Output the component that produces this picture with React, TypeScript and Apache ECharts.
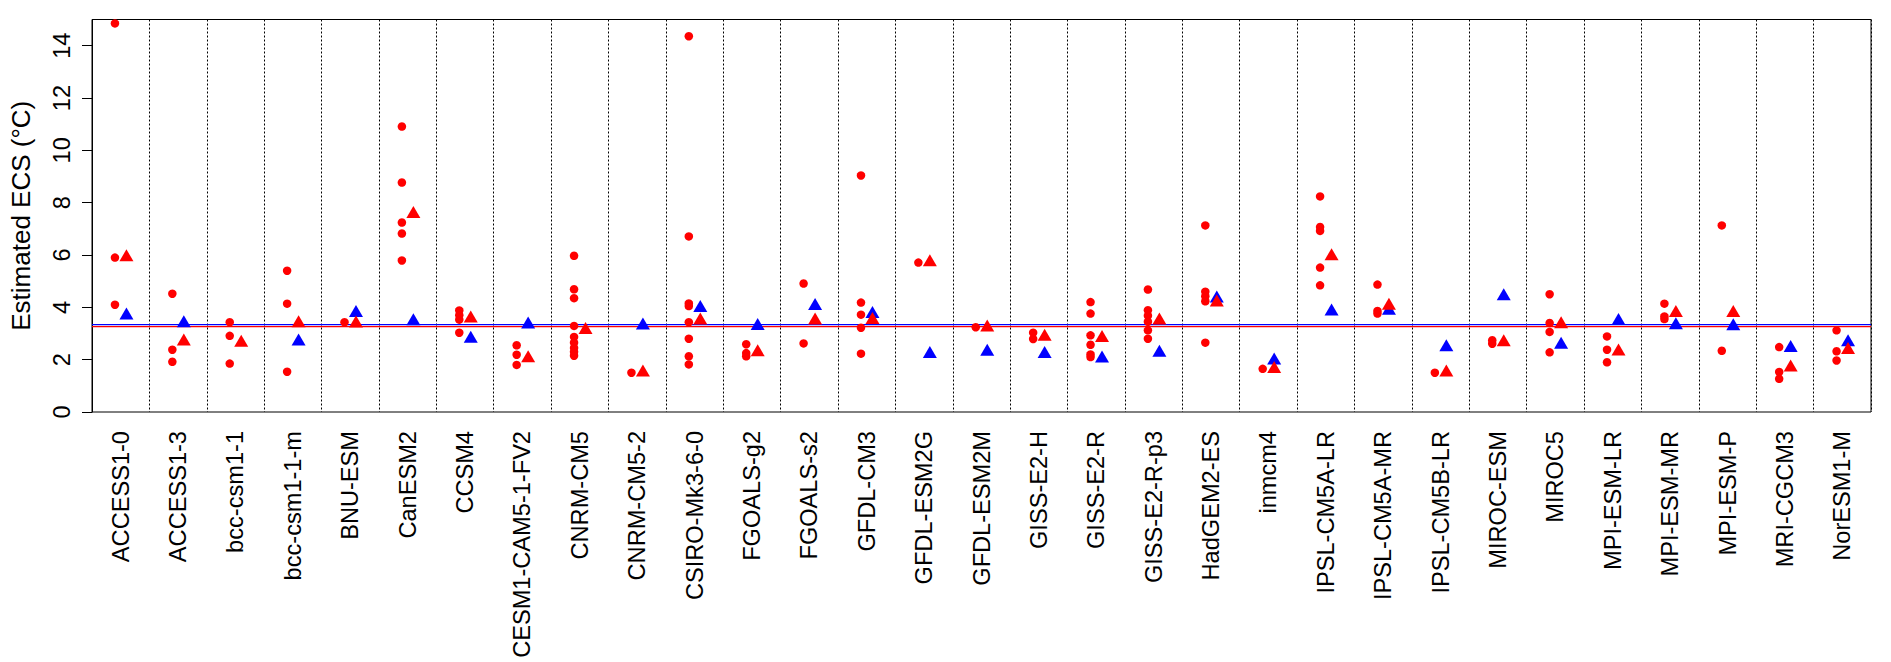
import React, { useEffect, useRef } from "react";
import * as echarts from "echarts";

const models = [
  "ACCESS1-0", "ACCESS1-3", "bcc-csm1-1", "bcc-csm1-1-m", "BNU-ESM", "CanESM2", "CCSM4",
  "CESM1-CAM5-1-FV2", "CNRM-CM5", "CNRM-CM5-2", "CSIRO-Mk3-6-0", "FGOALS-g2", "FGOALS-s2",
  "GFDL-CM3", "GFDL-ESM2G", "GFDL-ESM2M", "GISS-E2-H", "GISS-E2-R", "GISS-E2-R-p3",
  "HadGEM2-ES", "inmcm4", "IPSL-CM5A-LR", "IPSL-CM5A-MR", "IPSL-CM5B-LR", "MIROC-ESM",
  "MIROC5", "MPI-ESM-LR", "MPI-ESM-MR", "MPI-ESM-P", "MRI-CGCM3", "NorESM1-M",
];

// red dots: individual estimates per model
const redDots: number[][] = [
  [14.85, 5.9, 4.1],
  [4.52, 2.38, 1.92],
  [3.43, 2.91, 1.85],
  [5.4, 4.14, 1.54],
  [3.43],
  [10.91, 8.77, 7.24, 6.82, 5.79],
  [3.88, 3.7, 3.53, 3.03],
  [2.55, 2.19, 1.8],
  [5.97, 4.69, 4.35, 3.29, 2.87, 2.65, 2.45, 2.3, 2.15],
  [1.5],
  [14.36, 6.71, 4.15, 4.05, 3.43, 2.8, 2.13, 1.82],
  [2.59, 2.25, 2.13],
  [4.91, 2.62],
  [9.04, 4.18, 3.72, 3.22, 2.23],
  [5.71],
  [3.24],
  [3.03, 2.79],
  [4.2, 3.76, 2.93, 2.57, 2.2, 2.1],
  [4.68, 3.89, 3.68, 3.45, 3.12, 2.8],
  [7.13, 4.6, 4.42, 4.23, 2.65],
  [1.65],
  [8.24, 7.07, 6.92, 5.52, 4.84],
  [4.87, 3.86, 3.76],
  [1.5],
  [2.74, 2.61],
  [4.5, 3.4, 3.06, 2.28],
  [2.89, 2.38, 1.9],
  [4.14, 3.65, 3.55],
  [7.13, 2.34],
  [2.48, 1.53, 1.27],
  [3.12, 2.32, 1.97],
];

const redTriangles: number[] = [
  5.99, 2.77, 2.72, 3.47, 3.46, 7.64, 3.65, 2.13, 3.21, 1.59, 3.57, 2.36, 3.57, 3.59, 5.8,
  3.31, 2.95, 2.9, 3.57, 4.26, 1.72, 6.03, 4.14, 1.59, 2.74, 3.43, 2.39, 3.86, 3.86, 1.78, 2.45,
];

const blueTriangles: (number | null)[] = [
  3.76, 3.47, null, 2.77, 3.86, 3.54, 2.88, 3.42, null, 3.38, 4.05, 3.36, 4.13, 3.82, 2.29,
  2.38, 2.29, 2.12, 2.34, 4.41, 2.04, 3.92, 3.95, 2.55, 4.5, 2.65, 3.55, 3.39, 3.35, 2.52, 2.74,
];

const blueMean = 3.34;
const redMean = 3.26;
const yTicks = [0, 2, 4, 6, 8, 10, 12, 14];

const FONT = "'Liberation Sans', Arial, sans-serif";

export default function App() {
  const ref = useRef<HTMLDivElement>(null);

  useEffect(() => {
    if (!ref.current) return;
    const chart = echarts.init(ref.current, null, { renderer: "svg" });
    const n = models.length;
    const dotData = redDots.flatMap((vals, i) => vals.map((v) => [i + 0.4, v]));
    const redTriData = redTriangles.map((v, i) => [i + 0.6, v]);
    const blueTriData = blueTriangles.flatMap((v, i) => (v == null ? [] : [[i + 0.6, v]]));

    chart.setOption({
      animation: false,
      textStyle: { fontFamily: FONT, color: "#000" },
      grid: {
        left: 86,
        right: 20,
        top: 19.5,
        bottom: 250,
        show: true,
        borderColor: "#000",
        borderWidth: 1,
        backgroundColor: "transparent",
      },
      xAxis: [
        {
          type: "value",
          position: "bottom",
          min: 0,
          max: n,
          interval: 1,
          axisLine: { show: false },
          axisTick: { show: false },
          axisLabel: { show: false },
          splitLine: {
            show: true,
            lineStyle: { color: "#000", width: 1, type: [2, 2] },
          },
        },
        {
          type: "category",
          position: "bottom",
          data: models,
          boundaryGap: true,
          axisLine: { show: false },
          axisTick: { show: false },
          splitLine: { show: false },
          axisLabel: {
            interval: 0,
            rotate: 90,
            margin: 19,
            fontSize: 23.6,
            fontFamily: FONT,
            color: "#000",
          },
        },
      ],
      yAxis: {
        type: "value",
        min: 0,
        max: 15,
        interval: 2,
        name: "Estimated ECS (°C)",
        nameLocation: "middle",
        nameGap: 58,
        nameTextStyle: { fontSize: 26, fontFamily: FONT, color: "#000" },
        axisLine: { show: true, lineStyle: { color: "#000", width: 1 } },
        axisTick: {
          show: true,
          length: 10,
          inside: false,
          customValues: yTicks,
          lineStyle: { color: "#000", width: 1 },
        },
        axisLabel: {
          customValues: yTicks,
          rotate: 90,
          margin: 18,
          fontSize: 23.6,
          fontFamily: FONT,
          color: "#000",
        },
        splitLine: { show: false },
      },
      series: [
        {
          name: "blue mean",
          type: "line",
          xAxisIndex: 0,
          data: [[0, blueMean], [n, blueMean]],
          symbol: "none",
          lineStyle: { color: "#0000FF", width: 1.2, opacity: 1 },
          z: 1,
          silent: true,
        },
        {
          name: "red mean",
          type: "line",
          xAxisIndex: 0,
          data: [[0, redMean], [n, redMean]],
          symbol: "none",
          lineStyle: { color: "#FF0000", width: 1.2, opacity: 1 },
          z: 1,
          silent: true,
        },
        {
          name: "estimates",
          type: "scatter",
          xAxisIndex: 0,
          data: dotData,
          symbol: "circle",
          symbolSize: 8.5,
          itemStyle: { color: "#FF0000", opacity: 1 },
          z: 3,
        },
        {
          name: "blue triangles",
          type: "scatter",
          xAxisIndex: 0,
          data: blueTriData,
          symbol: "triangle",
          symbolSize: [14, 12],
          itemStyle: { color: "#0000FF", opacity: 1 },
          z: 4,
        },
        {
          name: "red triangles",
          type: "scatter",
          xAxisIndex: 0,
          data: redTriData,
          symbol: "triangle",
          symbolSize: [14, 12],
          itemStyle: { color: "#FF0000", opacity: 1 },
          z: 5,
        },
      ],
    });

    return () => chart.dispose();
  }, []);

  return (
    <div
      ref={ref}
      style={{ position: "absolute", left: 0, top: 0, width: 1891, height: 662 }}
    />
  );
}
